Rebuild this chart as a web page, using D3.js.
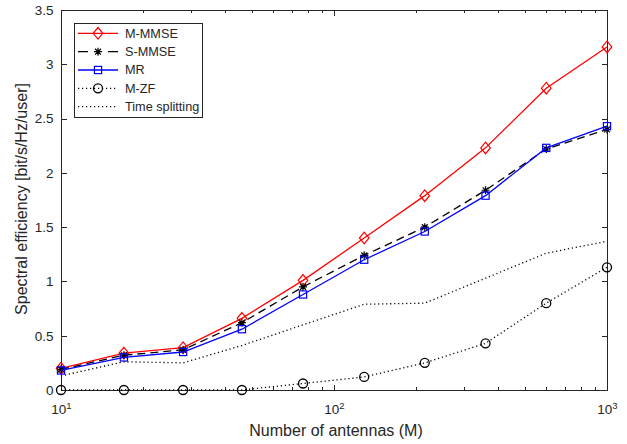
<!DOCTYPE html>
<html>
<head>
<meta charset="utf-8">
<script src="https://cdn.jsdelivr.net/npm/d3@7"></script>
<style>
body { margin: 0; background: #fff; }
svg text { font-family: Arial, "Liberation Sans", Helvetica, sans-serif; fill: #262626; }
.axis path, .axis line { stroke: #262626; shape-rendering: crispEdges; }
</style>
</head>
<body>
<div id="chart"></div>
<script>
// number of antennas (x axis, log scale)
const antennas = [10, 17, 28, 46, 77, 129, 215, 359, 599, 1000];

// spectral efficiency per scheme [bit/s/Hz/user]
const mmmse = [0.20, 0.34, 0.39, 0.66, 1.01, 1.40, 1.79, 2.23, 2.78, 3.16];
const smmse = [0.19, 0.32, 0.37, 0.62, 0.95, 1.24, 1.50, 1.84, 2.22, 2.40];
const mr = [0.18, 0.30, 0.35, 0.56, 0.88, 1.20, 1.46, 1.79, 2.23, 2.43];
const mzf = [0, 0, 0, 0, 0.06, 0.12, 0.25, 0.43, 0.80, 1.13];
const timeSplitting = [0.13, 0.26, 0.25, 0.41, 0.60, 0.79, 0.80, 1.03, 1.26, 1.37];

const seriesNames = ["M-MMSE", "S-MMSE", "MR", "M-ZF", "Time splitting"];
const yTicks = [0, 0.5, 1, 1.5, 2, 2.5, 3, 3.5];
const xTicks = [10, 100, 1000];
const xMinorTicks = [20, 30, 40, 50, 60, 70, 80, 90, 200, 300, 400, 500, 600, 700, 800, 900];

let width = 627, height = 444;
let margin = {left: 61, right: 20, top: 10, bottom: 54};

let svg = d3.select("#chart").append("svg")
  .attr("width", width)
  .attr("height", height);

let x = d3.scaleLog()
  .domain([10, 1000])
  .range([margin.left, width - margin.right]);

let y = d3.scaleLinear()
  .domain([0, 3.5])
  .range([height - margin.bottom, margin.top]);

// stile per serie
let styles = [
  {name: seriesNames[0], values: mmmse, color: "#ff0000", dash: null, marker: "diamond"},
  {name: seriesNames[1], values: smmse, color: "#000000", dash: "8,5", marker: "asterisk"},
  {name: seriesNames[2], values: mr, color: "#0000ff", dash: null, marker: "square"},
  {name: seriesNames[3], values: mzf, color: "#000000", dash: "1.2,2.8", marker: "circle"},
  {name: seriesNames[4], values: timeSplitting, color: "#000000", dash: "1.2,2.8", marker: null}
];

// axes (ticks pointing inward, mirrored on top/right)
let bottom = height - margin.bottom, right = width - margin.right;

svg.append("g").classed("axis", true)
  .attr("transform", "translate(0," + bottom + ")")
  .call(d3.axisBottom(x).tickValues(xMinorTicks).tickSize(-3).tickSizeOuter(0).tickFormat(""));
svg.append("g").classed("axis", true)
  .attr("transform", "translate(0," + margin.top + ")")
  .call(d3.axisTop(x).tickValues(xMinorTicks).tickSize(-3).tickSizeOuter(0).tickFormat(""));
svg.append("g").classed("axis", true)
  .attr("transform", "translate(0," + margin.top + ")")
  .call(d3.axisTop(x).tickValues(xTicks).tickSize(-5.5).tickSizeOuter(0).tickFormat(""));

let xAxisG = svg.append("g").classed("axis", true)
  .attr("transform", "translate(0," + bottom + ")")
  .call(d3.axisBottom(x).tickValues(xTicks).tickSize(-5.5).tickSizeOuter(0).tickPadding(14.5));

xAxisG.selectAll(".tick text")
  .attr("font-size", 13.5)
  .style("font-family", "Arial, 'Liberation Sans', sans-serif")
  .style("fill", "#262626")
  .text("10")
  .append("tspan")
  .attr("font-size", 9.5)
  .attr("dy", "-0.55em")
  .text(d => Math.round(Math.log10(d)));

let yAxisG = svg.append("g").classed("axis", true)
  .attr("transform", "translate(" + margin.left + ",0)")
  .call(d3.axisLeft(y).tickValues(yTicks).tickSize(-5.5).tickSizeOuter(0).tickPadding(7.5)
    .tickFormat(d => String(d)));

yAxisG.selectAll(".tick text")
  .attr("font-size", 13.5)
  .style("font-family", "Arial, 'Liberation Sans', sans-serif")
  .style("fill", "#262626");

svg.append("g").classed("axis", true)
  .attr("transform", "translate(" + right + ",0)")
  .call(d3.axisRight(y).tickValues(yTicks).tickSize(-5.5).tickSizeOuter(0).tickFormat(""));

svg.selectAll(".axis .domain").remove();

// box
svg.append("rect")
  .attr("x", margin.left)
  .attr("y", margin.top)
  .attr("width", right - margin.left)
  .attr("height", bottom - margin.top)
  .attr("fill", "none")
  .attr("stroke", "#262626")
  .attr("stroke-width", 1)
  .style("shape-rendering", "crispEdges");

// axis labels
svg.append("text")
  .attr("x", (margin.left + right) / 2 + 2)
  .attr("y", 436)
  .attr("text-anchor", "middle")
  .attr("font-size", 16)
  .text("Number of antennas (M)");

svg.append("text")
  .attr("transform", "translate(26.5," + ((margin.top + bottom) / 2 - 1) + ") rotate(-90)")
  .attr("text-anchor", "middle")
  .attr("font-size", 16)
  .text("Spectral efficiency [bit/s/Hz/user]");

// marker
function drawMarker(sel, type, color) {
  if (type === "diamond") {
    sel.append("path").attr("d", "M0,-5.8L4.8,0L0,5.8L-4.8,0Z")
      .attr("fill", "none").attr("stroke", color).attr("stroke-width", 1.2);
  } else if (type === "square") {
    sel.append("rect").attr("x", -3.6).attr("y", -3.6).attr("width", 7.2).attr("height", 7.2)
      .attr("fill", "none").attr("stroke", color).attr("stroke-width", 1.2);
  } else if (type === "circle") {
    sel.append("circle").attr("r", 4.5)
      .attr("fill", "none").attr("stroke", color).attr("stroke-width", 1.3);
  } else if (type === "asterisk") {
    sel.append("path").attr("d", "M-4,0L4,0M0,-4L0,4M-2.9,-2.9L2.9,2.9M-2.9,2.9L2.9,-2.9")
      .attr("fill", "none").attr("stroke", color).attr("stroke-width", 1.2);
  }
}

let line = d3.line()
  .x(d => x(d[0]))
  .y(d => y(d[1]));

styles.forEach(function(s) {
  let pts = antennas.map((a, i) => [a, s.values[i]]);

  svg.append("path")
    .datum(pts)
    .attr("d", line)
    .attr("fill", "none")
    .attr("stroke", s.color)
    .attr("stroke-width", 1.3)
    .attr("stroke-dasharray", s.dash);

  if (s.marker) {
    svg.selectAll(null)
      .data(pts)
      .enter()
      .append("g")
      .attr("transform", d => "translate(" + x(d[0]) + "," + y(d[1]) + ")")
      .each(function() { drawMarker(d3.select(this), s.marker, s.color); });
  }
});

// legenda
let legend = svg.append("g");

legend.append("rect")
  .attr("x", 74)
  .attr("y", 23)
  .attr("width", 128)
  .attr("height", 94)
  .attr("fill", "#fff")
  .attr("stroke", "#262626")
  .attr("stroke-width", 1)
  .style("shape-rendering", "crispEdges");

let legendDash = ["", "10,20", "", "1.2,2.8", "1.2,2.8"];

styles.forEach(function(s, i) {
  let ly = 33.3 + i * 18.35;
  legend.append("line")
    .attr("x1", 78).attr("x2", 118)
    .attr("y1", ly).attr("y2", ly)
    .attr("stroke", s.color)
    .attr("stroke-width", 1.3)
    .attr("stroke-dasharray", legendDash[i] || null);
  if (s.marker) {
    let m = legend.append("g").attr("transform", "translate(98," + ly + ")");
    drawMarker(m, s.marker, s.color);
  }
  legend.append("text")
    .attr("x", 125)
    .attr("y", ly)
    .attr("dy", "0.35em")
    .attr("font-size", 12.7)
    .text(s.name);
});
</script>
</body>
</html>
